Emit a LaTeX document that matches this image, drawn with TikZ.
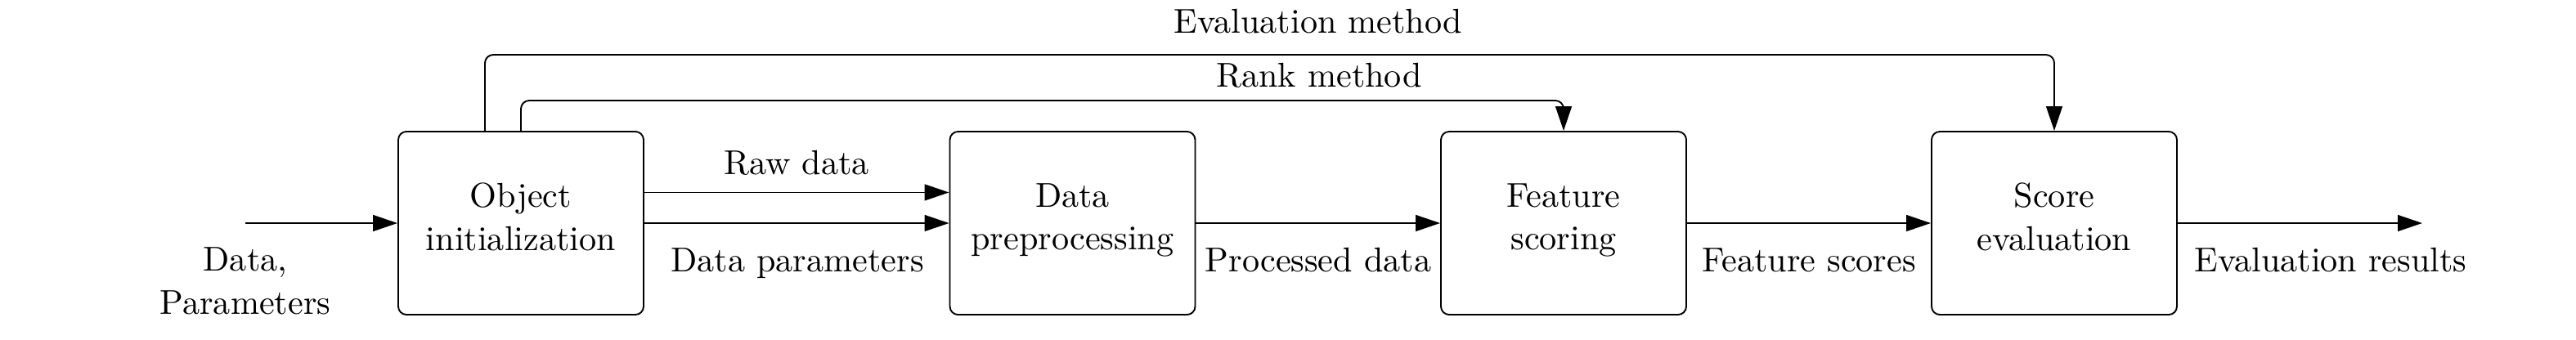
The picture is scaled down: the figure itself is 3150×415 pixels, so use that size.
\documentclass[tikz,border=0pt]{standalone}
\usetikzlibrary{arrows.meta}
\begin{document}
\begin{tikzpicture}[x=0.237pt,y=-0.237pt,
  line width=0.45pt,
  block/.style={draw, rounded corners=2.4pt, minimum width=71.1pt, minimum height=53.1pt,
    align=center, inner sep=0pt, font=\fontsize{10}{12.5}\selectfont},
  lbl/.style={inner sep=0pt, anchor=base, align=center, font=\fontsize{10}{12.5}\selectfont},
  arr/.style={-{Triangle[length=7.1pt,width=4.7pt]}},
  link/.style={arr, rounded corners=2.4pt}]
\useasboundingbox (0,0) rectangle (3150,415);
% blocks
\node[block] (b1) at (637,273) {Object\\initialization\strut};
\node[block] (b2) at (1311.5,273) {Data\\preprocessing\strut};
\node[block] (b3) at (1912,273) {Feature\\scoring\strut};
\node[block] (b4) at (2512,273) {Score\\evaluation\strut};
% free ends
\coordinate (in) at (300,273);
\coordinate (out) at (2962,273);
\coordinate (rk) at (1270,123);
\coordinate (ev) at (1270,67);
\coordinate (evs) at (593,161);
% connectors
\draw[arr] (in) -- (b1.west);
\draw[arr] ([yshift=8.9pt]b1.east) -- ([yshift=8.9pt]b2.west);
\draw[arr] (b1.east) -- (b2.west);
\draw[arr] (b2.east) -- (b3.west);
\draw[arr] (b3.east) -- (b4.west);
\draw[arr] (b4.east) -- (out);
\draw[link] (b1.north) |- (rk) -| (b3.north);
\draw[link] (evs) |- (ev) -| (b4.north);
% labels
\node[lbl] (linput) at (300,384) {Data,\\Parameters};
\node[lbl] (lraw) at (974,213) {Raw data};
\node[lbl] (lpar) at (975,332) {Data parameters};
\node[lbl] (lproc) at (1612,332) {Processed data};
\node[lbl] (lfeat) at (2212,332) {Feature scores};
\node[lbl] (lres) at (2850,332) {Evaluation results};
\node[lbl] (lrank) at (1613,106) {Rank method};
\node[lbl] (leval) at (1612,40) {Evaluation method};
\end{tikzpicture}
\end{document}
